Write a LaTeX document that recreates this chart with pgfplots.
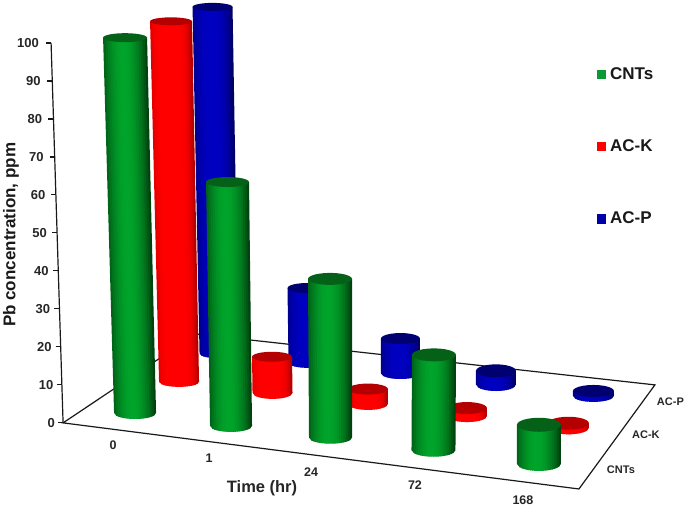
\documentclass[border=0pt]{standalone}
\usepackage{pgfplots}
\usepackage{fontspec}
\setmainfont{Liberation Sans}
\pgfplotsset{compat=1.18}

% cylinder colours: side highlight, side edge, top face
\definecolor{Gbase}{HTML}{00A42A}
\definecolor{Gdark}{HTML}{003A0C}
\definecolor{Gtop}{HTML}{056018}
\definecolor{Rbase}{HTML}{FF0000}
\definecolor{Rdark}{HTML}{A00000}
\definecolor{Rtop}{HTML}{B40000}
\definecolor{Bbase}{HTML}{0000C0}
\definecolor{Bdark}{HTML}{000058}
\definecolor{Btop}{HTML}{000070}
\definecolor{Gkey}{HTML}{0A9A35}
\definecolor{Bkey}{HTML}{0000AA}
% how fast each side falls off to its edge colour
\def\Gpow{2}
\def\Rpow{5}
\def\Bpow{3}

% #1 series, #2 x top, #3 value top, #4 x base, #5 value base,
% #6 #7 radii of the top face, #8 #9 radii of the base (pixels)
\newcommand{\cyl}[9]{%
  \foreach \k in {0,...,19}{%
    \pgfmathsetmacro\ua{-1+\k/10}%
    \pgfmathsetmacro\ub{min(\ua+0.13,1)}%
    \pgfmathsetmacro\um{\ua+0.05}%
    \pgfmathsetmacro\w{abs(\um+0.1)/1.1}%
    \pgfmathsetmacro\f{100*(1-\w^\csname #1pow\endcsname)}%
    \pgfmathsetmacro\xta{#2+\ua*#6}%
    \pgfmathsetmacro\xtb{#2+\ub*#6}%
    \pgfmathsetmacro\xba{#4+\ua*#8}%
    \pgfmathsetmacro\xbb{#4+\ub*#8}%
    \pgfmathsetmacro\yba{#5-#9/3.8*sqrt(max(0,1-\ua*\ua))}%
    \pgfmathsetmacro\ybb{#5-#9/3.8*sqrt(max(0,1-\ub*\ub))}%
    \edef\temp{\noexpand\addplot[draw=none,fill=#1base!\f!#1dark,forget plot]
      coordinates {(\xta,#3)(\xtb,#3)(\xbb,\ybb)(\xba,\yba)} --cycle;}%
    \temp
  }%
  \gdef\pts{}%
  \foreach \a in {0,15,...,345}{%
    \pgfmathsetmacro\px{#2+#6*cos(\a)}%
    \pgfmathsetmacro\py{#3+#7/3.8*sin(\a)}%
    \xdef\pts{\pts(\px,\py)}%
  }%
  \edef\temp{\noexpand\addplot[draw=none,fill=#1top,forget plot]
    coordinates {\pts} --cycle;}%
  \temp
}

\newcommand{\lbl}[4]{\node[font=\fontsize{#3}{#3}\selectfont\bfseries,text=black!85,inner sep=0pt] at (axis cs:#1,#2) {#4};}

\begin{document}
\begin{tikzpicture}
\begin{axis}[
  scale only axis,
  width=685pt, height=506pt,
  xmin=0, xmax=685,
  ymin=-21.842, ymax=111.316,
  axis line style={draw=none},
  major tick length=0pt,
  xtick=\empty,
  ytick={0,10,...,100},
  /pgf/number format/assume math mode=true,
  yticklabel style={
    font=\fontsize{13}{13}\selectfont\bfseries,
    text=black!85, inner sep=0pt,
    xshift={(55-1.6*\ticknum)*1pt}},
]

% floor
\addplot[black!90,line width=1.2pt,forget plot] coordinates {(196,23.4)(63,0)(579,-17.4)(655,10)(196,23.4)};
\addplot[black!90,line width=1.2pt,forget plot] coordinates {(51,100)(63,0)};
\foreach \v in {0,10,...,100}{%
  \pgfmathsetmacro\xr{63-0.12*\v}%
  \pgfmathsetmacro\xl{\xr-5}%
  \edef\temp{\noexpand\addplot[black!90,line width=1.1pt,forget plot] coordinates {(\xl,\v)(\xr,\v)};}%
  \temp
}

% AC-P
\cyl{B}{212.5}{109.5}{219}{18.2}{20}{4}{19.5}{4.5}
\cyl{B}{307}{35.5}{308}{15.8}{19.5}{5}{19.5}{5}
\cyl{B}{400.5}{22.2}{400.5}{13.0}{19.5}{5.5}{19.5}{5.5}
\cyl{B}{496}{13.7}{496}{10.1}{20}{6.5}{20}{6.5}
\cyl{B}{593.5}{8.4}{593.5}{7.1}{20.5}{6}{20.5}{6}

% AC-K
\cyl{R}{171}{105.7}{179}{10.8}{21}{4}{20}{5}
\cyl{R}{272}{17.4}{272.5}{7.9}{20}{5}{20}{6}
\cyl{R}{368}{8.9}{368}{5.0}{20}{5.5}{20}{6}
\cyl{R}{467}{3.9}{467}{1.8}{20}{6}{20}{6}
\cyl{R}{568.5}{-0.1}{568.5}{-1.3}{20.5}{6.5}{20.5}{6.5}

% CNTs
\cyl{G}{125}{101.4}{135}{2.6}{22}{4.5}{21}{6}
\cyl{G}{227.5}{63.4}{231}{-0.8}{21.5}{5}{21}{6}
\cyl{G}{330}{37.9}{330.5}{-3.9}{22}{6}{21.5}{6}
\cyl{G}{434}{17.9}{433.5}{-7.2}{22}{6.5}{22}{6.5}
\cyl{G}{539}{-0.5}{539}{-10.8}{22}{7}{22}{7}

% legend
\addplot[only marks,mark=square*,mark size=4.2pt,color=Gkey,forget plot] coordinates {(601,91.8)};
\addplot[only marks,mark=square*,mark size=4.2pt,color=Rbase,forget plot] coordinates {(601,72.8)};
\addplot[only marks,mark=square*,mark size=4.2pt,color=Bkey,forget plot] coordinates {(601,53.7)};
\node[font=\fontsize{17}{17}\selectfont\bfseries,text=black!90,anchor=west,inner sep=0pt] at (axis cs:610,92) {CNTs};
\node[font=\fontsize{17}{17}\selectfont\bfseries,text=black!90,anchor=west,inner sep=0pt] at (axis cs:610,73) {AC-K};
\node[font=\fontsize{17}{17}\selectfont\bfseries,text=black!90,anchor=west,inner sep=0pt] at (axis cs:610,54) {AC-P};

% category labels
\lbl{113}{-6.0}{12.5}{0}
\lbl{209}{-9.2}{12.5}{1}
\lbl{311}{-12.9}{12.5}{24}
\lbl{415}{-16.3}{12.5}{72}
\lbl{523}{-20.3}{12.5}{168}
\lbl{262}{-17.1}{16.5}{Time (hr)}
\lbl{670.5}{5.5}{11}{AC-P}
\lbl{646}{-3.2}{11}{AC-K}
\lbl{621}{-12.4}{11}{CNTs}
\node[font=\fontsize{17}{17}\selectfont\bfseries,text=black!90,inner sep=0pt,rotate=90] at (axis cs:11,49.5) {Pb concentration, ppm};

\end{axis}
\end{tikzpicture}
\end{document}
